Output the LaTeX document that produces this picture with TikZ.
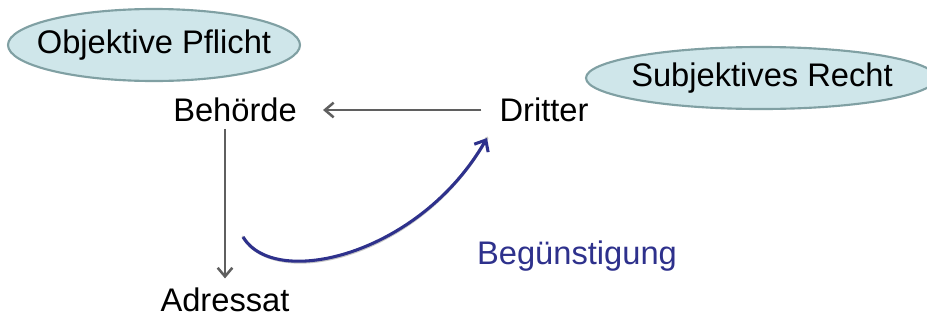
\documentclass[tikz,border=0pt]{standalone}
\usepackage{fontspec}
\setmainfont{Liberation Sans}
\usetikzlibrary{arrows.meta}
\definecolor{bubblefill}{RGB}{207,230,234}
\definecolor{bubbleedge}{RGB}{128,160,163}
\definecolor{linkgray}{RGB}{95,95,95}
\definecolor{navy}{RGB}{46,49,140}
\tikzset{
  bubble/.style={draw=bubbleedge, line width=1.6pt, fill=bubblefill},
  label text/.style={inner sep=0pt, font=\fontsize{24.5}{28}\selectfont},
  relation/.style={draw=linkgray, line width=1.9pt, -{Straight Barb[length=6.5pt,width=11pt]}},
  favour/.style={draw=navy, line width=2.3pt, -{Straight Barb[length=7pt,width=12pt]}},
}
\begin{document}
\begin{tikzpicture}[x=0.75pt,y=-0.75pt]
\useasboundingbox (0,0) rectangle (927,322);
\clip (0,0) rectangle (927,322);

% the two bubbles
\path[bubble] (154,45) ellipse [x radius=146, y radius=36];
\node[label text] (objektiv) at (154,45) {Objektive Pflicht};
\path[bubble] (761,78) ellipse [x radius=175, y radius=31];
\node[label text] (subjektiv) at (762,78) {Subjektives Recht};

\node[label text] (behoerde) at (235,110) {Behörde};
\node[label text] (dritter) at (544,110) {Dritter};
\node[label text] (adressat) at (225,300) {Adressat};
\node[label text, text=navy] (beguenstigung) at (577,256) {Begünstigung};

% Dritter -> Behörde
\draw[relation, shorten <=13.5pt, shorten >=19.5pt] (dritter.west) -- (behoerde.east);
% Behörde -> Adressat
\draw[relation, shorten <=5pt, shorten >=7pt] (adressat.north |- behoerde.south) -- (adressat.north);

% Begünstigung curve (with soft shadow)
\coordinate (start) at (243,237);
\coordinate (tip) at (487,138);
\draw[gray!45, line width=2.4pt, line cap=round, shift={(1.5,1.5)}] (start) .. controls (275,290) and (420,255) .. (tip);
\draw[favour] (start) .. controls (275,290) and (420,255) .. (tip);
\end{tikzpicture}
\end{document}
